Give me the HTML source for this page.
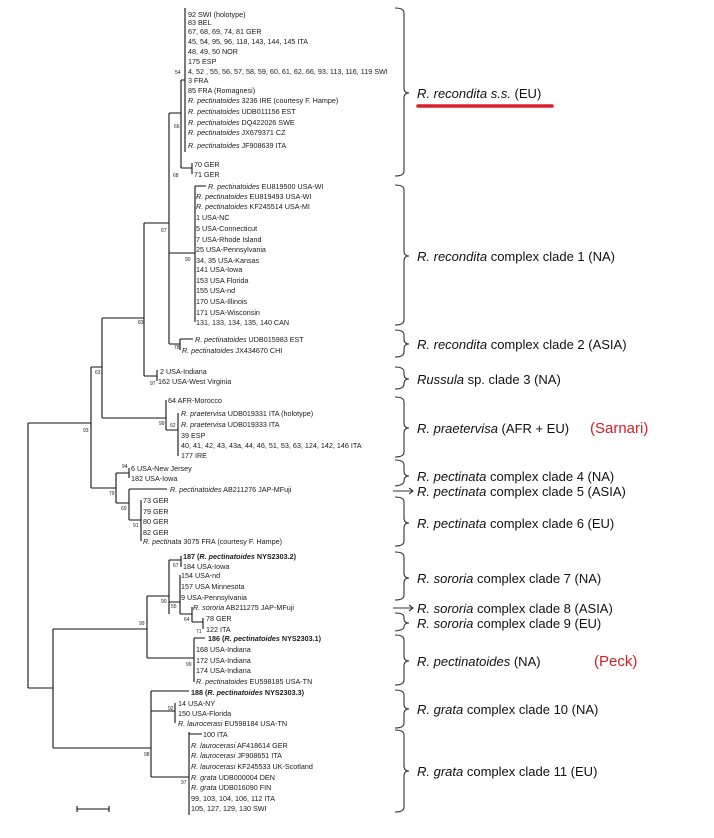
<!DOCTYPE html>
<html><head><meta charset="utf-8"><style>
html,body{margin:0;padding:0;background:#fff;}
svg{display:block;}
.t{font-family:"Liberation Sans",sans-serif;font-size:7.2px;fill:#1a1a1a;}
.b{font-family:"Liberation Sans",sans-serif;font-size:5px;fill:#222;}
.L{font-family:"Liberation Sans",sans-serif;font-size:13px;fill:#111;}
.r{font-family:"Liberation Sans",sans-serif;font-size:15px;fill:#d0202a;}
.bold{font-weight:bold;}
</style></head><body>
<svg width="714" height="838" viewBox="0 0 714 838" xmlns="http://www.w3.org/2000/svg">
<g stroke="#111" stroke-width="1.1" fill="none">
<!-- root -->
<path d="M28 423V688 M28 423H91 M28 688H53"/>
<path d="M91 367V488 M91 367H102 M91 488H116"/>
<path d="M102 318V418 M102 318H144 M102 418H166"/>
<path d="M144 223V376 M144 223H169 M144 376H157"/>
<path d="M169 113V344 M169 113H181 M169 253H195 M169 344H180"/>
<!-- recondita s.s. -->
<path d="M181 80V168 M181 80H185 M181 168H192 M185 8V152 M192 163V174"/>
<!-- clade1 -->
<path d="M195 186V322 M195 186H206"/>
<!-- clade2 -->
<path d="M180 339V350 M180 339H193"/>
<!-- russula -->
<path d="M157 370V381"/>
<!-- praetervisa -->
<path d="M166 400V430 M166 430H178 M178 413V456"/>
<!-- pectinata -->
<path d="M116 473V503 M116 473H129 M129 468V478 M116 503H129 M129 489V520 M129 489H167 M129 520H141 M141 500V541"/>
<!-- bottom -->
<path d="M53 629V748 M53 629H147 M53 748H151"/>
<path d="M147 596V658 M147 596H169 M147 658H194"/>
<path d="M169 560V614 M169 560H181 M181 556V567 M169 602H180 M180 575V614 M180 614H192 M192 607V622 M192 622H203 M203 618V629"/>
<path d="M194 638V682 M194 638H205"/>
<path d="M151 691V777 M151 691H189 M151 711H175 M175 703V723 M151 777H189 M189 732V815 M189 734H202"/>
<!-- scale -->
<path d="M77 809H109 M77 806V812 M109 806V812"/>
</g>
<g class="t">
<text x="188" y="17">92 SWI (holotype)</text>
<text x="188" y="25">83 BEL</text>
<text x="188" y="34">67, 68, 69, 74, 81 GER</text>
<text x="188" y="44">45, 54, 95, 96, 118, 143, 144, 145 ITA</text>
<text x="188" y="54">48, 49, 50 NOR</text>
<text x="188" y="64">175 ESP</text>
<text x="188" y="74">4, 52 , 55, 56, 57, 58, 59, 60, 61, 62, 66, 93, 113, 116, 119 SWI</text>
<text x="188" y="83">3 FRA</text>
<text x="188" y="93">85 FRA (Romagnesi)</text>
<text x="188" y="103"><tspan font-style="italic">R. pectinatoides</tspan> 3236 IRE (courtesy F. Hampe)</text>
<text x="188" y="114"><tspan font-style="italic">R. pectinatoides</tspan> UDB011156 EST</text>
<text x="188" y="125"><tspan font-style="italic">R. pectinatoides</tspan> DQ422026 SWE</text>
<text x="188" y="135"><tspan font-style="italic">R. pectinatoides</tspan> JX679371 CZ</text>
<text x="188" y="148"><tspan font-style="italic">R. pectinatoides</tspan> JF908639 ITA</text>
<text x="194" y="167">70 GER</text>
<text x="194" y="177">71 GER</text>
<text x="208" y="189"><tspan font-style="italic">R. pectinatoides</tspan> EU819500 USA-WI</text>
<text x="196" y="199"><tspan font-style="italic">R. pectinatoides</tspan> EU819493 USA-WI</text>
<text x="196" y="209"><tspan font-style="italic">R. pectinatoides</tspan> KF245514 USA-MI</text>
<text x="196" y="220">1 USA-NC</text>
<text x="196" y="231">5 USA-Connecticut</text>
<text x="196" y="242">7 USA-Rhode Island</text>
<text x="196" y="252">25 USA-Pennsylvania</text>
<text x="196" y="263">34, 35 USA-Kansas</text>
<text x="196" y="272">141 USA-Iowa</text>
<text x="196" y="283">153 USA Florida</text>
<text x="196" y="293">155 USA-nd</text>
<text x="196" y="304">170 USA-Illinois</text>
<text x="196" y="315">171 USA-Wisconsin</text>
<text x="196" y="325">131, 133, 134, 135, 140 CAN</text>
<text x="195" y="342"><tspan font-style="italic">R. pectinatoides</tspan> UDB015983 EST</text>
<text x="182" y="353"><tspan font-style="italic">R. pectinatoides</tspan> JX434670 CHI</text>
<text x="160" y="374">2 USA-Indiana</text>
<text x="158" y="384">162 USA-West Virginia</text>
<text x="168" y="403">64 AFR-Morocco</text>
<text x="181" y="416"><tspan font-style="italic">R. praetervisa</tspan> UDB019331 ITA (holotype)</text>
<text x="181" y="427"><tspan font-style="italic">R. praetervisa</tspan> UDB019333 ITA</text>
<text x="181" y="438">39 ESP</text>
<text x="181" y="448">40, 41, 42, 43, 43a, 44, 46, 51, 53, 63, 124, 142, 146 ITA</text>
<text x="181" y="458">177 IRE</text>
<text x="131" y="471">6 USA-New Jersey</text>
<text x="131" y="481">182 USA-Iowa</text>
<text x="170" y="492"><tspan font-style="italic">R. pectinatoides</tspan> AB211276 JAP-MFuji</text>
<text x="143" y="503">73 GER</text>
<text x="143" y="514">79 GER</text>
<text x="143" y="524">80 GER</text>
<text x="143" y="535">82 GER</text>
<text x="143" y="544"><tspan font-style="italic">R. pectinata</tspan> 3075 FRA (courtesy F. Hampe)</text>
<text x="183" y="559" class="bold">187 (<tspan font-style="italic">R. pectinatoides</tspan> NYS2303.2)</text>
<text x="183" y="569">184 USA-Iowa</text>
<text x="181" y="578">154 USA-nd</text>
<text x="181" y="589">157 USA Minnesota</text>
<text x="181" y="600">9 USA-Pennsylvania</text>
<text x="193" y="610"><tspan font-style="italic">R. sororia</tspan> AB211275 JAP-MFuji</text>
<text x="206" y="621">78 GER</text>
<text x="206" y="632">122 ITA</text>
<text x="208" y="641" class="bold">186 (<tspan font-style="italic">R. pectinatoides</tspan> NYS2303.1)</text>
<text x="196" y="652">168 USA-Indiana</text>
<text x="196" y="663">172 USA-Indiana</text>
<text x="196" y="673">174 USA-Indiana</text>
<text x="196" y="684"><tspan font-style="italic">R. pectinatoides</tspan> EU598185 USA-TN</text>
<text x="191" y="695" class="bold">188 (<tspan font-style="italic">R. pectinatoides</tspan> NYS2303.3)</text>
<text x="178" y="706">14 USA-NY</text>
<text x="178" y="716">150 USA-Florida</text>
<text x="178" y="726"><tspan font-style="italic">R. laurocerasi</tspan> EU598184 USA-TN</text>
<text x="203" y="737">100 ITA</text>
<text x="191" y="748"><tspan font-style="italic">R. laurocerasi</tspan> AF418614 GER</text>
<text x="191" y="758"><tspan font-style="italic">R. laurocerasi</tspan> JF908651 ITA</text>
<text x="191" y="769"><tspan font-style="italic">R. laurocerasi</tspan> KF245533 UK-Scotland</text>
<text x="191" y="780"><tspan font-style="italic">R. grata</tspan> UDB000004 DEN</text>
<text x="191" y="790"><tspan font-style="italic">R. grata</tspan> UDB016090 FIN</text>
<text x="191" y="801">99, 103, 104, 106, 112 ITA</text>
<text x="191" y="811">105, 127, 129, 130 SWI</text>
</g>
<g class="b">
<text x="175" y="74">54</text><text x="174" y="128">66</text><text x="173" y="177">68</text>
<text x="161" y="232">67</text><text x="185" y="261">90</text><text x="174" y="349">78</text>
<text x="138" y="324">83</text><text x="150" y="385">97</text><text x="95" y="374">63</text>
<text x="83" y="432">93</text><text x="159" y="425">99</text><text x="170" y="427">62</text>
<text x="122" y="468">94</text><text x="109" y="495">79</text><text x="121" y="510">69</text>
<text x="133" y="527">91</text><text x="139" y="625">99</text><text x="161" y="603">90</text>
<text x="173" y="567">67</text><text x="171" y="608">55</text><text x="184" y="621">64</text>
<text x="196" y="633">71</text><text x="186" y="666">99</text><text x="168" y="710">92</text>
<text x="144" y="756">98</text><text x="181" y="784">97</text>
</g>
<!-- braces -->
<g stroke="#333" stroke-width="1.1" fill="none">
<path d="M395 8Q404 8 404 13V88Q404 93 409 93Q404 93 404 98V171Q404 176 395 176"/>
<path d="M395 185Q404 185 404 190V251Q404 256 409 256Q404 256 404 261V320Q404 325 395 325"/>
<path d="M395 330Q404 330 404 335V339Q404 344 409 344Q404 344 404 349V352Q404 357 395 357"/>
<path d="M395 367Q404 367 404 372V374Q404 379 409 379Q404 379 404 384V384Q404 389 395 389"/>
<path d="M395 397Q404 397 404 402V423Q404 428 409 428Q404 428 404 433V452Q404 457 395 457"/>
<path d="M395 460Q404 460 404 465V471Q404 476 409 476Q404 476 404 481V481Q404 485 395 486"/>
<path d="M395 497Q404 497 404 502V518Q404 523 409 523Q404 523 404 528V541Q404 546 395 546"/>
<path d="M395 552Q404 552 404 557V573Q404 578 409 578Q404 578 404 583V595Q404 600 395 600"/>
<path d="M395 613Q404 613 404 617V619Q404 623 409 623Q404 623 404 627V627Q404 630 395 631"/>
<path d="M395 635Q404 635 404 640V656Q404 661 409 661Q404 661 404 666V680Q404 685 395 685"/>
<path d="M395 690Q404 690 404 695V704Q404 709 409 709Q404 709 404 714V723Q404 728 395 728"/>
<path d="M395 730Q404 730 404 735V766Q404 771 409 771Q404 771 404 776V807Q404 812 395 812"/>
<path d="M393 491H413 M409 488L413 491L409 494 M393 608H413 M409 605L413 608L409 611"/>
</g>
<g class="L">
<text x="417" y="98"><tspan font-style="italic">R. recondita s.s.</tspan> (EU)</text>
<text x="417" y="261"><tspan font-style="italic">R. recondita</tspan> complex clade 1 (NA)</text>
<text x="417" y="349"><tspan font-style="italic">R. recondita</tspan> complex clade 2 (ASIA)</text>
<text x="417" y="384"><tspan font-style="italic">Russula</tspan> sp. clade 3 (NA)</text>
<text x="417" y="433"><tspan font-style="italic">R. praetervisa</tspan> (AFR + EU)</text>
<text x="417" y="481"><tspan font-style="italic">R. pectinata</tspan> complex clade 4 (NA)</text>
<text x="417" y="496"><tspan font-style="italic">R. pectinata</tspan> complex  clade 5 (ASIA)</text>
<text x="417" y="528"><tspan font-style="italic">R. pectinata</tspan> complex clade 6 (EU)</text>
<text x="417" y="583"><tspan font-style="italic">R. sororia</tspan> complex clade 7 (NA)</text>
<text x="417" y="613"><tspan font-style="italic">R. sororia</tspan> complex clade 8 (ASIA)</text>
<text x="417" y="628"><tspan font-style="italic">R. sororia</tspan> complex clade 9 (EU)</text>
<text x="417" y="666"><tspan font-style="italic">R. pectinatoides</tspan> (NA)</text>
<text x="417" y="714"><tspan font-style="italic">R. grata</tspan> complex clade 10 (NA)</text>
<text x="417" y="776"><tspan font-style="italic">R. grata</tspan> complex clade 11 (EU)</text>
</g>
<line x1="418" y1="106" x2="552" y2="106" stroke="#d8202a" stroke-width="3.5" stroke-linecap="round"/>
<text class="r" x="590" y="433">(Sarnari)</text>
<text class="r" x="594" y="666">(Peck)</text>
</svg>
</body></html>
